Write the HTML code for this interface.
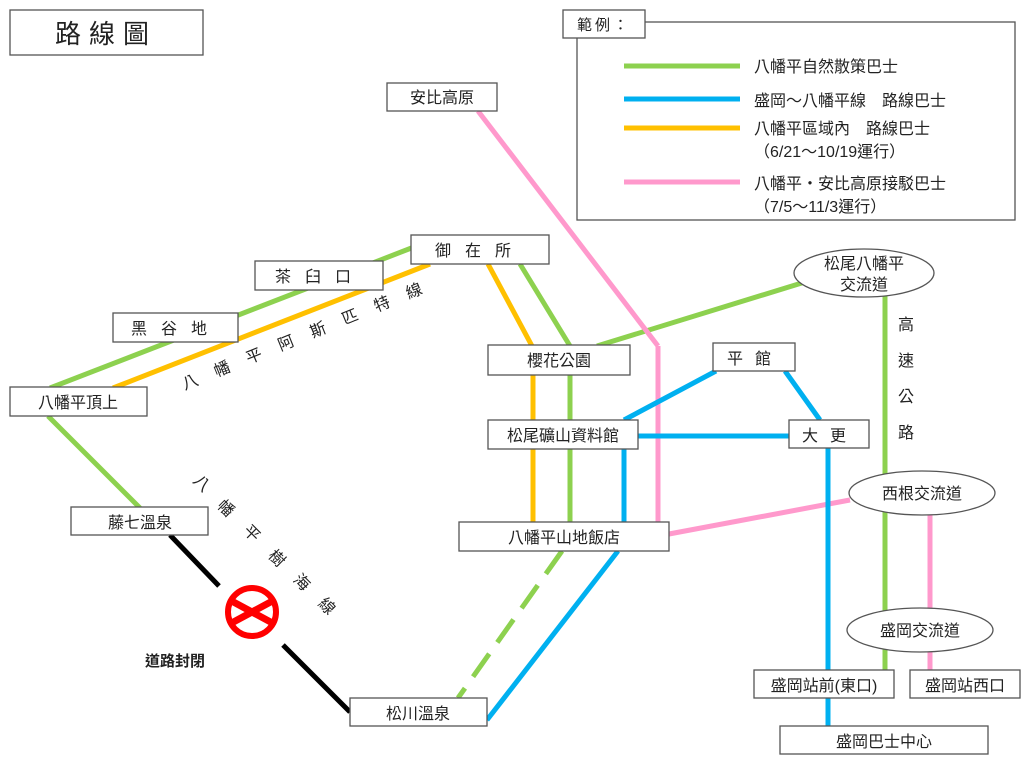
<!DOCTYPE html>
<html><head><meta charset="utf-8"><style>
body{margin:0;background:#fff;width:1024px;height:768px;overflow:hidden}
svg text{font-family:"Liberation Sans","Noto Sans CJK TC",sans-serif;fill:#222}
</style></head><body>
<svg width="1024" height="768" viewBox="0 0 1024 768" xmlns="http://www.w3.org/2000/svg">
<defs><clipPath id="cc"><circle cx="252" cy="612" r="24"/></clipPath></defs>
<g fill="none" stroke-width="5">
<line x1="50" y1="388" x2="414" y2="247" stroke="#8DD14F"/>
<line x1="48" y1="416" x2="140" y2="508" stroke="#8DD14F"/>
<line x1="520" y1="264" x2="570" y2="346" stroke="#8DD14F"/>
<line x1="570" y1="375" x2="570" y2="522" stroke="#8DD14F"/>
<line x1="562" y1="551" x2="458" y2="698" stroke="#8DD14F" stroke-dasharray="28,14"/>
<line x1="597" y1="346" x2="805" y2="282" stroke="#8DD14F"/>
<line x1="885" y1="296" x2="885" y2="670" stroke="#8DD14F"/>
<line x1="113" y1="388" x2="430" y2="264" stroke="#FFC000"/>
<line x1="488" y1="264" x2="532" y2="346" stroke="#FFC000"/>
<line x1="533" y1="375" x2="533" y2="522" stroke="#FFC000"/>
<line x1="478" y1="111" x2="658" y2="346" stroke="#FF99CC"/>
<line x1="658" y1="346" x2="658" y2="522" stroke="#FF99CC"/>
<line x1="669" y1="534" x2="850" y2="500" stroke="#FF99CC"/>
<line x1="930" y1="514" x2="930" y2="670" stroke="#FF99CC"/>
<line x1="487" y1="720" x2="618" y2="551" stroke="#00B0F0"/>
<line x1="624" y1="551" x2="624" y2="420" stroke="#00B0F0"/>
<line x1="624" y1="420" x2="716" y2="371" stroke="#00B0F0"/>
<line x1="638" y1="436" x2="789" y2="436" stroke="#00B0F0"/>
<line x1="785" y1="371" x2="820" y2="420" stroke="#00B0F0"/>
<line x1="828" y1="448" x2="828" y2="726" stroke="#00B0F0"/>
<line x1="170" y1="535" x2="219" y2="586" stroke="#000"/>
<line x1="283" y1="645" x2="350" y2="712" stroke="#000"/>
</g>
<circle cx="252" cy="612" r="24" fill="#fff"/>
<g clip-path="url(#cc)" stroke="#FF0000" stroke-width="7">
<line x1="226" y1="598" x2="278" y2="626"/>
<line x1="226" y1="626" x2="278" y2="598"/>
</g>
<circle cx="252" cy="612" r="24" fill="none" stroke="#FF0000" stroke-width="6"/>
<text x="145" y="666" font-size="15" font-weight="bold">道路封閉</text>

<g fill="#fff" stroke="#555" stroke-width="1.3">
<rect x="10" y="10" width="193" height="45"/>
<rect x="577" y="22" width="438" height="198"/>
<rect x="563" y="10" width="82" height="28"/>
<rect x="387" y="83" width="110" height="28"/>
<rect x="411" y="235" width="138" height="29"/>
<rect x="255" y="261" width="128" height="29"/>
<rect x="113" y="313" width="125" height="29"/>
<rect x="10" y="387" width="137" height="29"/>
<rect x="488" y="345" width="142" height="30"/>
<rect x="713" y="343" width="82" height="28"/>
<rect x="488" y="420" width="150" height="29"/>
<rect x="789" y="420" width="80" height="28"/>
<rect x="459" y="522" width="210" height="29"/>
<rect x="71" y="507" width="137" height="28"/>
<rect x="350" y="698" width="137" height="28"/>
<rect x="754" y="670" width="140" height="28"/>
<rect x="910" y="670" width="110" height="28"/>
<rect x="780" y="726" width="208" height="28"/>
<ellipse cx="864" cy="273" rx="70" ry="24"/>
<ellipse cx="922" cy="493" rx="73" ry="22"/>
<ellipse cx="920" cy="630" rx="73" ry="22"/>
</g>

<g font-size="16" text-anchor="middle">
<text x="106" y="43" font-size="26" letter-spacing="8">路線圖</text>
<text x="604" y="30" font-size="15" letter-spacing="3">範例：</text>
<text x="442" y="103">安比高原</text>
<text x="480" y="256" letter-spacing="14">御在所</text>
<text x="320" y="282" letter-spacing="14">茶臼口</text>
<text x="176" y="334" letter-spacing="14">黑谷地</text>
<text x="78" y="408">八幡平頂上</text>
<text x="559" y="366">櫻花公園</text>
<text x="755" y="364" letter-spacing="12">平館</text>
<text x="563" y="441">松尾礦山資料館</text>
<text x="830" y="441" letter-spacing="12">大更</text>
<text x="564" y="543">八幡平山地飯店</text>
<text x="140" y="528">藤七溫泉</text>
<text x="418" y="719">松川溫泉</text>
<text x="824" y="691">盛岡站前(東口)</text>
<text x="965" y="691">盛岡站西口</text>
<text x="884" y="747">盛岡巴士中心</text>
<text x="864" y="269">松尾八幡平</text>
<text x="864" y="290">交流道</text>
<text x="922" y="499">西根交流道</text>
<text x="920" y="636">盛岡交流道</text>
<text x="906" y="330">高</text>
<text x="906" y="366">速</text>
<text x="906" y="402">公</text>
<text x="906" y="438">路</text>
</g>

<g font-size="16" text-anchor="middle">
<text transform="translate(192,387) rotate(-22)">八</text>
<text transform="translate(224,374) rotate(-22)">幡</text>
<text transform="translate(256,361) rotate(-22)">平</text>
<text transform="translate(288,348) rotate(-22)">阿</text>
<text transform="translate(320,335) rotate(-22)">斯</text>
<text transform="translate(352,322) rotate(-22)">匹</text>
<text transform="translate(384,309) rotate(-22)">特</text>
<text transform="translate(416,296) rotate(-22)">線</text>
<text transform="translate(198,487) rotate(45)">八</text>
<text transform="translate(222,512) rotate(45)">幡</text>
<text transform="translate(248,537) rotate(45)">平</text>
<text transform="translate(273,562) rotate(45)">樹</text>
<text transform="translate(298,586) rotate(45)">海</text>
<text transform="translate(323,610) rotate(45)">線</text>
</g>

<g stroke-width="5">
<line x1="624" y1="66" x2="740" y2="66" stroke="#8DD14F"/>
<line x1="624" y1="99" x2="740" y2="99" stroke="#00B0F0"/>
<line x1="624" y1="128" x2="740" y2="128" stroke="#FFC000"/>
<line x1="624" y1="182" x2="740" y2="182" stroke="#FF99CC"/>
</g>
<g font-size="16">
<text x="754" y="72">八幡平自然散策巴士</text>
<text x="754" y="106">盛岡～八幡平線　路線巴士</text>
<text x="754" y="134">八幡平區域內　路線巴士</text>
<text x="754" y="157">（6/21～10/19運行）</text>
<text x="754" y="189">八幡平・安比高原接駁巴士</text>
<text x="754" y="212">（7/5～11/3運行）</text>
</g>
</svg>
</body></html>
